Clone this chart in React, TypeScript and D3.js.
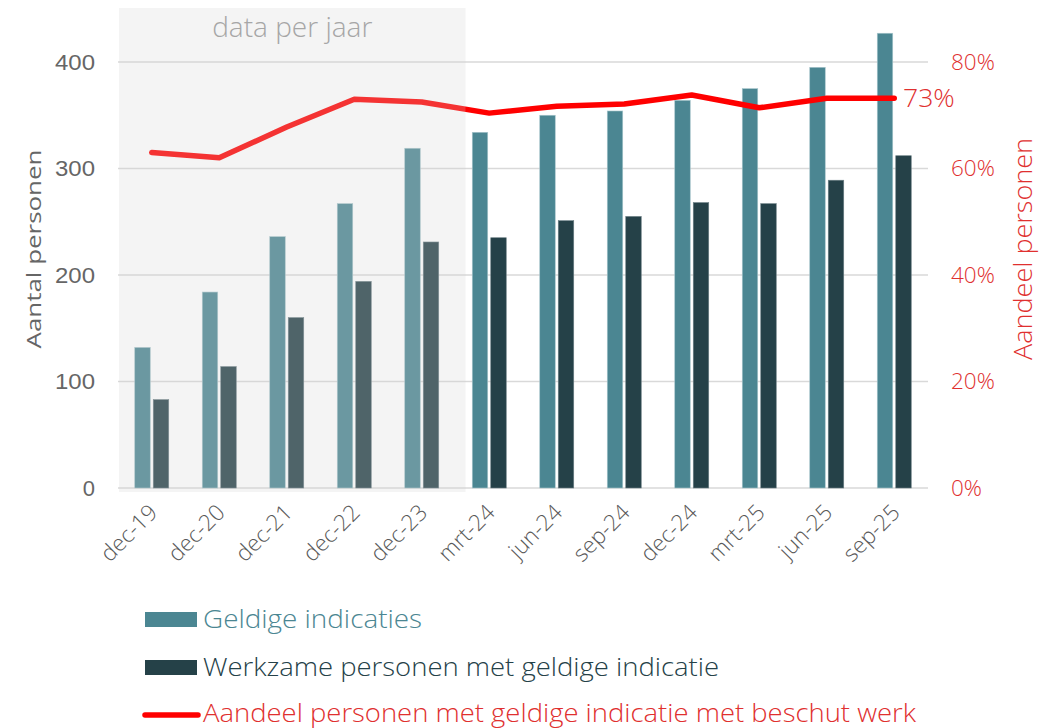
import React from 'react'
import * as d3 from 'd3'

// data
const periods = ['dec-19', 'dec-20', 'dec-21', 'dec-22', 'dec-23', 'mrt-24', 'jun-24', 'sep-24', 'dec-24', 'mrt-25', 'jun-25', 'sep-25']
const geldig = [132, 184, 236, 267, 319, 334, 350, 354, 364, 375, 395, 427]
const werkzaam = [83, 114, 160, 194, 231, 235, 251, 255, 268, 267, 289, 312]
const aandeel = [0.63, 0.62, 0.678, 0.73, 0.725, 0.704, 0.717, 0.721, 0.738, 0.714, 0.732, 0.732]
const leftTicks = [0, 100, 200, 300, 400]
const rightTicks = [0, 0.2, 0.4, 0.6, 0.8]
const yearlyCount = 5

const W = 1056
const H = 728
const font = '"Open Sans", Lato, sans-serif'
const arial = '"Liberation Sans", Arial, sans-serif'
const cLight = '#4b8692'
const cDark = '#254148'
const cRed = '#ff0000'
const cRedText = '#e0302f'
const cAxis = '#595959'

export default function App() {
	const x = d3.scaleBand().domain(periods).range([118, 928])
	const y = d3.scaleLinear().domain([0, 400]).range([488, 62])
	const y2 = d3.scaleLinear().domain([0, 0.8]).range([488, 62])
	const barW = 15.5
	const gap = 3
	const cx = (p: string) => (x(p) as number) + x.bandwidth() / 2

	const line = d3.line<number>()
		.x((d, i) => cx(periods[i]))
		.y(d => y2(d))

	const shadeEnd = (x(periods[yearlyCount]) as number) + 10
	const last = periods.length - 1

	return (
		<svg width={W} height={H} style={{ position: 'absolute', left: 0, top: 0, fontFamily: font, fontWeight: 300 }}>
			<rect width={W} height={H} fill="#fff" />
			{leftTicks.map(t => (
				<line key={t} x1={118} x2={928} y1={y(t)} y2={y(t)} stroke="#d9d9d9" strokeWidth={1.5} />
			))}
			{periods.map((p, i) => (
				<g key={p}>
					<rect x={cx(p) - gap / 2 - barW} y={y(geldig[i])} width={barW} height={y(0) - y(geldig[i])} fill={cLight} stroke="#a9c6cc" strokeWidth={0.6} />
					<rect x={cx(p) + gap / 2} y={y(werkzaam[i])} width={barW} height={y(0) - y(werkzaam[i])} fill={cDark} stroke="#6d8086" strokeWidth={0.6} />
				</g>
			))}
			<path d={line(aandeel) as string} fill="none" stroke={cRed} strokeWidth={5.5} strokeLinejoin="round" strokeLinecap="round" />
			<text x={903} y={y2(aandeel[last]) + 9} fill={cRedText} fontSize={26.5}>73%</text>

			{/* grey overlay for yearly data */}
			<rect x={119} y={8} width={shadeEnd - 119} height={484} fill="#d2d2d2" fillOpacity={0.244} />
			<text x={(119 + shadeEnd) / 2} y={37} textAnchor="middle" fill="#a6a6a6" fontSize={28}>data per jaar</text>

			{leftTicks.map(t => (
				<text key={t} x={95} y={y(t) + 7.5} textAnchor="end" fill="#666" fontSize={22} fontFamily={arial} fontWeight={400} textLength={t === 0 ? undefined : 40} lengthAdjust="spacingAndGlyphs">{t}</text>
			))}
			{rightTicks.map(t => (
				<text key={t} x={951} y={y2(t) + 7.5} fill={cRedText} fontSize={22.5}>{d3.format('.0%')(t)}</text>
			))}
			<text transform={`translate(41,249) rotate(-90)`} textAnchor="middle" fill="#666" fontSize={20} fontWeight={400} textLength={199} lengthAdjust="spacingAndGlyphs">Aantal personen</text>
			<text transform={`translate(1032,249) rotate(-90)`} textAnchor="middle" fill={cRedText} fontSize={25} textLength={222} lengthAdjust="spacingAndGlyphs">Aandeel personen</text>

			{periods.map(p => (
				<text key={p} transform={`translate(${cx(p) + 7},${514}) rotate(-45)`} textAnchor="end" fill={cAxis} fontSize={22.5}>{p}</text>
			))}

			<rect x={145} y={612} width={52} height={15} fill={cLight} />
			<text x={203} y={628} fill={cLight} fontSize={26.5} textLength={219} lengthAdjust="spacingAndGlyphs">Geldige indicaties</text>
			<rect x={145} y={660} width={52} height={15} fill={cDark} />
			<text x={203} y={675.5} fill={cDark} fontSize={26.5} textLength={516} lengthAdjust="spacingAndGlyphs">Werkzame personen met geldige indicatie</text>
			<line x1={145} x2={198} y1={715} y2={715} stroke={cRed} strokeWidth={5.5} strokeLinecap="round" />
			<text x={203} y={721.5} fill={cRedText} fontSize={26.5} textLength={713} lengthAdjust="spacingAndGlyphs">Aandeel personen met geldige indicatie met beschut werk</text>
		</svg>
	)
}
